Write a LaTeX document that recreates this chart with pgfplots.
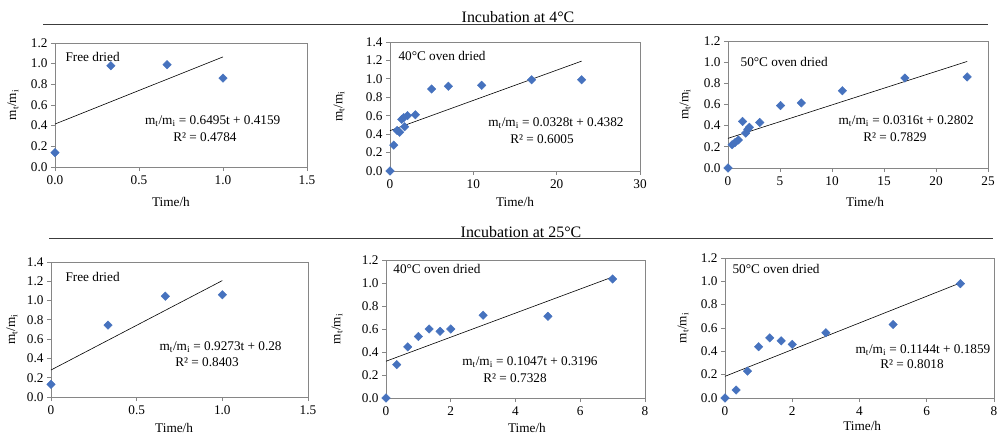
\documentclass[border=0pt]{standalone}
\usepackage{fontspec}
\setmainfont{Liberation Serif}
\usepackage{pgfplots}
\pgfplotsset{compat=1.18}

\definecolor{mkblue}{RGB}{70,114,190}
\definecolor{axgray}{RGB}{134,134,134}
\definecolor{rulegray}{RGB}{60,60,60}
\newcommand{\fnt}{\fontsize{13.3}{15}\selectfont}
\newcommand{\tfnt}{\fontsize{16}{18}\selectfont}
\newcommand{\mm}{m\textsubscript{t}/m\textsubscript{i}}

\pgfplotsset{
  panel/.style={
    scale only axis, anchor=south west, clip=false,
    axis line style={draw=axgray, line width=0.8bp},
    tick style={draw=axgray, line width=0.8bp},
    tick align=outside, tick pos=left, major tick length=4bp,
    /pgf/number format/assume math mode=true,
    ticklabel style={font=\fnt},
    xticklabel style={yshift=-1bp},
    yticklabel style={/pgf/number format/.cd, fixed, fixed zerofill, precision=1},
    xlabel={Time/h}, ylabel={\mm},
    ymin=0,
  },
  xl/.style 2 args={every axis x label/.style={at={(rel axis cs:#1,0)}, yshift=-#2, anchor=center, font=\fnt}},
  yl/.style={every axis y label/.style={at={(rel axis cs:0,0.5)}, xshift=-#1, rotate=90, anchor=center, font=\fnt}},
  pts/.style={only marks, mark=square*, mark size=3bp,
    mark options={rotate=45, fill=mkblue, draw=mkblue}},
  trend/.style={black, line width=0.6bp, no marks},
}

\begin{document}
\begin{tikzpicture}[x=1bp,y=1bp]
\useasboundingbox (0,0) rectangle (1005,-436);

% headers
\node[font=\tfnt] at (518,-17) {Incubation at 4°C};
\draw[rulegray, line width=1bp] (43,-25) -- (988,-25);
\node[font=\tfnt] at (521,-232) {Incubation at 25°C};
\draw[rulegray, line width=1bp] (49,-239) -- (993,-239);

% ---- 4 C, free dried
\begin{axis}[panel, at={(55bp,-167bp)}, width=252bp, height=124bp,
  xmin=0, xmax=1.5, xtick={0,0.5,1,1.5}, ymax=1.2, ytick={0,0.2,...,1.2},
  xticklabel style={/pgf/number format/.cd, fixed, fixed zerofill, precision=1},
  xl={0.46}{35bp}, yl=42bp]
\addplot[pts] coordinates {(0,0.14) (0.333,0.98) (0.667,0.99) (1,0.86)};
\addplot[trend] coordinates {(0,0.4159) (1,1.0654)};
\node[font=\fnt, anchor=west] at (rel axis cs:0.028,0.887) {Free dried};
\node[font=\fnt] at (rel axis cs:0.626,0.373) {\mm{} = 0.6495t + 0.4159};
\node[font=\fnt] at (rel axis cs:0.595,0.24) {R² = 0.4784};
\end{axis}

% ---- 4 C, 40 C oven dried
\begin{axis}[panel, at={(390bp,-171bp)}, width=250bp, height=129bp,
  xmin=0, xmax=30, xtick={0,10,20,30}, ymax=1.4, ytick={0,0.2,...,1.4},
  xl={0.5}{31bp}, yl=51bp]
\addplot[pts] coordinates {(0,0) (0.45,0.28) (0.85,0.44) (1.15,0.42) (1.4,0.56)
  (1.65,0.58) (1.75,0.48) (2.1,0.60) (3.05,0.61) (5,0.89) (7,0.92) (11,0.93)
  (17,0.99) (23,0.99)};
\addplot[trend] coordinates {(0,0.4382) (23,1.1926)};
\node[font=\fnt, anchor=west] at (rel axis cs:0.02,0.89) {40°C oven dried};
\node[font=\fnt] at (rel axis cs:0.664,0.372) {\mm{} = 0.0328t + 0.4382};
\node[font=\fnt] at (rel axis cs:0.608,0.248) {R² = 0.6005};
\end{axis}

% ---- 4 C, 50 C oven dried
\begin{axis}[panel, at={(728bp,-168bp)}, width=260bp, height=127bp,
  xmin=0, xmax=25, xtick={0,5,...,25}, ymax=1.2, ytick={0,0.2,...,1.2},
  xl={0.527}{34bp}, yl=43bp]
\addplot[pts] coordinates {(0,0) (0.4,0.22) (0.67,0.24) (1,0.265) (1.4,0.44)
  (1.7,0.33) (1.9,0.365) (2.05,0.385) (3.05,0.43) (5.05,0.59) (7.05,0.615)
  (11,0.73) (17,0.85) (23,0.86)};
\addplot[trend] coordinates {(0,0.2802) (23,1.0070)};
\node[font=\fnt, anchor=west] at (rel axis cs:0.035,0.835) {50°C oven dried};
\node[font=\fnt] at (rel axis cs:0.685,0.37) {\mm{} = 0.0316t + 0.2802};
\node[font=\fnt] at (rel axis cs:0.642,0.244) {R² = 0.7829};
\end{axis}

% ---- 25 C, free dried
\begin{axis}[panel, at={(51bp,-397bp)}, width=257bp, height=135bp,
  xmin=0, xmax=1.5, xtick={0,0.5,1,1.5}, xticklabels={0,0.5,1.0,1.5},
  ymax=1.4, ytick={0,0.2,...,1.4},
  xl={0.479}{31bp}, yl=39bp]
\addplot[pts] coordinates {(0,0.13) (0.333,0.745) (0.667,1.045) (1,1.06)};
\addplot[trend] coordinates {(0,0.28) (1,1.2073)};
\node[font=\fnt, anchor=west] at (rel axis cs:0.043,0.889) {Free dried};
\node[font=\fnt] at (rel axis cs:0.66,0.37) {\mm{} = 0.9273t + 0.28};
\node[font=\fnt] at (rel axis cs:0.607,0.26) {R² = 0.8403};
\end{axis}

% ---- 25 C, 40 C oven dried
\begin{axis}[panel, at={(386bp,-398bp)}, width=259bp, height=138bp,
  xmin=0, xmax=8, xtick={0,2,...,8}, ymax=1.2, ytick={0,0.2,...,1.2},
  xl={0.544}{30bp}, yl=49bp]
\addplot[pts] coordinates {(0,0) (0.33,0.29) (0.67,0.445) (1,0.535) (1.33,0.60)
  (1.67,0.58) (2,0.60) (3,0.72) (5,0.71) (7,1.035)};
\addplot[trend] coordinates {(0,0.3196) (7,1.0525)};
\node[font=\fnt, anchor=west] at (rel axis cs:0.015,0.935) {40°C oven dried};
\node[font=\fnt] at (rel axis cs:0.556,0.26) {\mm{} = 0.1047t + 0.3196};
\node[font=\fnt] at (rel axis cs:0.498,0.145) {R² = 0.7328};
\end{axis}

% ---- 25 C, 50 C oven dried
\begin{axis}[panel, at={(725bp,-398bp)}, width=269bp, height=140bp,
  xmin=0, xmax=8, xtick={0,2,...,8}, ymax=1.2, ytick={0,0.2,...,1.2},
  xl={0.51}{28bp}, yl=42bp]
\addplot[pts] coordinates {(0,0) (0.33,0.068) (0.67,0.23) (1,0.44) (1.33,0.515)
  (1.67,0.49) (2,0.46) (3,0.56) (5,0.63) (7,0.98)};
\addplot[trend] coordinates {(0,0.1859) (7,0.9867)};
\node[font=\fnt, anchor=west] at (rel axis cs:0.015,0.92) {50°C oven dried};
\node[font=\fnt] at (rel axis cs:0.736,0.343) {\mm{} = 0.1144t + 0.1859};
\node[font=\fnt] at (rel axis cs:0.695,0.243) {R² = 0.8018};
\end{axis}
\end{tikzpicture}
\end{document}
